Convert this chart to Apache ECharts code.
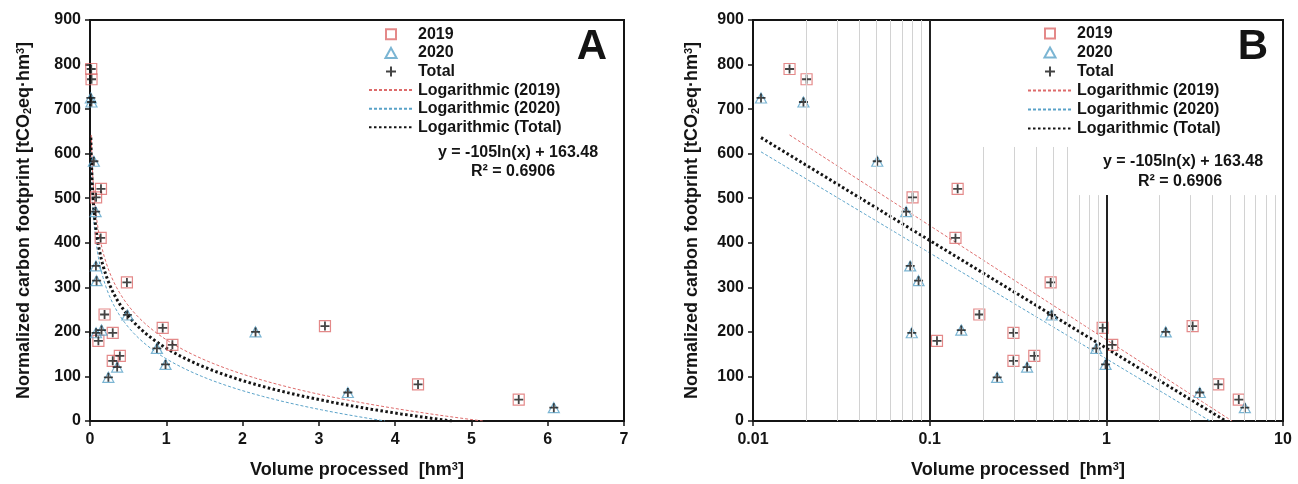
<!DOCTYPE html>
<html>
<head>
<meta charset="utf-8">
<script src="https://cdn.jsdelivr.net/npm/echarts@6/dist/echarts.min.js"></script>
<style>
html,body{margin:0;padding:0;background:#fff}
#chart{width:1298px;height:484px}
</style>
</head>
<body>
<div id="chart"></div>
<script>
// volume processed [hm3] and normalized carbon footprint, per campaign
var vol2019 = [0.0161,0.0201,0.080,0.110,0.140,0.144,0.191,0.298,0.298,0.391,0.484,0.953,1.08,3.08,4.30,5.62];
var cf2019  = [790,767,502,180,411,521,239,198,135,146,311,209,171,213,82,48];
var vol2020 = [0.0111,0.0193,0.0505,0.0736,0.0776,0.0792,0.0865,0.151,0.241,0.356,0.490,0.877,0.990,2.17,3.38,6.08];
var cf2020  = [725,716,583,470,348,198,315,204,98,121,238,163,127,200,64,30];

// logarithmic trend lines  y = a*ln(x) + b
var trend2019  = [-111.3, 182.4];
var trend2020  = [-103.2, 139.6];
var trendTotal = [-105, 163.48];

// log axis gridlines (panel B)
var majorB = [0.1, 1];
var minorB = [0.02,0.03,0.04,0.05,0.06,0.07,0.08,0.09,0.2,0.3,0.4,0.5,0.6,0.7,0.8,0.9,2,3,4,5,6,7,8,9];

var FONT = '"Liberation Sans", Arial, sans-serif';
var RED = '#dd6b6b', BLUE = '#5aa2c8', INK = '#141414';
var SQUARE = 'path://M0,0L10,0L10,10L0,10Z';
var TRIANGLE = 'path://M5,0L10,9L0,9Z';
var PLUS = 'path://M4,0L6,0L6,4L10,4L10,6L6,6L6,10L4,10L4,6L0,6L0,4L4,4Z';

function pairs(xs, ys){
    var out = [];
    for (var i = 0; i < xs.length; i++) out.push([xs[i], ys[i]]);
    return out;
}
function trendPoints(c, xs){
    var a = c[0], b = c[1];
    var x0 = Math.min.apply(null, xs);
    var x1 = Math.min(Math.max.apply(null, xs), Math.exp(-b / a));
    var pts = [];
    for (var i = 0; i <= 120; i++) {
        var x = x0 * Math.pow(x1 / x0, i / 120);
        pts.push([x, a * Math.log(x) + b]);
    }
    return pts;
}

var volTotal = vol2019.concat(vol2020);
var cfTotal = cf2019.concat(cf2020);

var richName = {
    sup: {fontSize: 11, fontWeight: 'bold', fontFamily: FONT, color: INK, verticalAlign: 'top', lineHeight: 18},
    sub: {fontSize: 11, fontWeight: 'bold', fontFamily: FONT, color: INK, verticalAlign: 'bottom', lineHeight: 18}
};
var nameStyle = {fontSize: 18, fontWeight: 'bold', fontFamily: FONT, color: INK, lineHeight: 18, rich: richName};
var labelStyle = {fontSize: 16, fontWeight: 'bold', fontFamily: FONT, color: INK};

function xAxisFor(i, log){
    var ax = {
        gridIndex: i,
        type: log ? 'log' : 'value',
        name: 'Volume processed  [hm{sup|3}]',
        nameLocation: 'middle',
        nameGap: 40,
        nameTextStyle: nameStyle,
        axisLine: {onZero: false, lineStyle: {color: INK, width: 2}},
        axisTick: {length: 5, lineStyle: {color: INK, width: 1.5}},
        axisLabel: Object.assign({margin: 11}, labelStyle),
        splitLine: {show: false}
    };
    if (log) {
        ax.min = 0.01; ax.max = 10; ax.logBase = 10;
        ax.axisLabel.formatter = function(v){ return String(Number(v.toPrecision(6))); };
    } else {
        ax.min = 0; ax.max = 7; ax.interval = 1;
    }
    return ax;
}
function yAxisFor(i, gap){
    return {
        gridIndex: i,
        type: 'value',
        min: 0, max: 900, interval: 100,
        name: 'Normalized carbon footprint [tCO{sub|2}eq·hm{sup|3}]',
        nameLocation: 'middle',
        nameGap: gap,
        nameTextStyle: nameStyle,
        axisLine: {lineStyle: {color: INK, width: 2}},
        axisTick: {length: 5, lineStyle: {color: INK, width: 1.5}},
        axisLabel: Object.assign({margin: 9}, labelStyle),
        splitLine: {show: false}
    };
}

function panelSeries(i){
    return [
        {name: '2019', type: 'scatter', xAxisIndex: i, yAxisIndex: i, symbol: SQUARE, symbolSize: 11,
         itemStyle: {color: 'rgba(255,255,255,0)', borderColor: RED, borderWidth: 1.2},
         data: pairs(vol2019, cf2019), z: 3},
        {name: '2020', type: 'scatter', xAxisIndex: i, yAxisIndex: i, symbol: TRIANGLE, symbolSize: [11, 10],
         itemStyle: {color: 'rgba(255,255,255,0)', borderColor: BLUE, borderWidth: 1.2},
         data: pairs(vol2020, cf2020), z: 3},
        {name: 'Total', type: 'scatter', xAxisIndex: i, yAxisIndex: i, symbol: PLUS, symbolSize: 9,
         itemStyle: {color: INK}, data: pairs(volTotal, cfTotal), z: 4},
        {name: 'Logarithmic (2019)', type: 'line', xAxisIndex: i, yAxisIndex: i, symbol: 'none', showSymbol: false,
         lineStyle: {color: RED, width: 1, type: [3, 2]}, data: trendPoints(trend2019, vol2019), z: 2},
        {name: 'Logarithmic (2020)', type: 'line', xAxisIndex: i, yAxisIndex: i, symbol: 'none', showSymbol: false,
         lineStyle: {color: BLUE, width: 1, type: [3, 2]}, data: trendPoints(trend2020, vol2020), z: 2},
        {name: 'Logarithmic (Total)', type: 'line', xAxisIndex: i, yAxisIndex: i, symbol: 'none', showSymbol: false,
         lineStyle: {color: INK, width: 3, type: [2.5, 2.5]}, data: trendPoints(trendTotal, volTotal), z: 2}
    ];
}

// vertical gridlines on the log panel; they stop under the legend and equation boxes
function gridLinesB(){
    var lines = [];
    minorB.forEach(function(v){
        var top = v < 0.1 ? 900 : (v < 0.65 ? 615 : 507);
        lines.push([{coord: [v, 0], lineStyle: {color: '#d2d2d2', width: 1, type: 'solid'}}, {coord: [v, top]}]);
    });
    majorB.forEach(function(v){
        var top = v < 0.5 ? 900 : 507;
        lines.push([{coord: [v, 0], lineStyle: {color: '#222', width: 2, type: 'solid'}}, {coord: [v, top]}]);
    });
    return {
        name: 'gridB', type: 'line', xAxisIndex: 1, yAxisIndex: 1, data: [], silent: true, z: 1,
        markLine: {silent: true, symbol: ['none', 'none'], label: {show: false}, animation: false, data: lines}
    };
}

function legendFor(left, top, lh){
    var noDot = {color: 'rgba(0,0,0,0)', borderWidth: 0};
    return {
        orient: 'vertical', left: left, top: top, itemWidth: 44, itemHeight: 10, itemGap: 0,
        selectedMode: false,
        data: ['2019', '2020', 'Total',
               {name: 'Logarithmic (2019)', itemStyle: noDot},
               {name: 'Logarithmic (2020)', itemStyle: noDot},
               {name: 'Logarithmic (Total)', itemStyle: noDot}],
        textStyle: {fontSize: 16, fontWeight: 'bold', fontFamily: FONT, color: INK, lineHeight: lh}
    };
}

function label(x, y, text, size){
    return {type: 'text', x: x, y: y, z: 10,
        style: {text: text, textAlign: 'center', textVerticalAlign: 'middle',
                font: 'bold ' + size + 'px ' + FONT, fill: INK}};
}

var chart = echarts.init(document.getElementById('chart'), null, {renderer: 'canvas'});
chart.setOption({
    animation: false,
    backgroundColor: '#fff',
    grid: [
        {left: 90, right: 674, top: 20, bottom: 63, show: true, borderColor: INK, borderWidth: 2},
        {left: 753, right: 15, top: 20, bottom: 63, show: true, borderColor: INK, borderWidth: 2}
    ],
    xAxis: [xAxisFor(0, false), xAxisFor(1, true)],
    yAxis: [yAxisFor(0, 57), yAxisFor(1, 52)],
    legend: [legendFor(363, 20, 18.6), legendFor(1022, 19, 19)],
    series: panelSeries(0).concat(panelSeries(1)).concat([gridLinesB()]),
    graphic: [
        label(592, 47, 'A', 42),
        label(518, 153, 'y = -105ln(x) + 163.48', 16),
        label(513, 172, 'R² = 0.6906', 16),
        label(1253, 47, 'B', 42),
        label(1183, 162, 'y = -105ln(x) + 163.48', 16),
        label(1180, 182, 'R² = 0.6906', 16)
    ]
});
</script>
</body>
</html>
